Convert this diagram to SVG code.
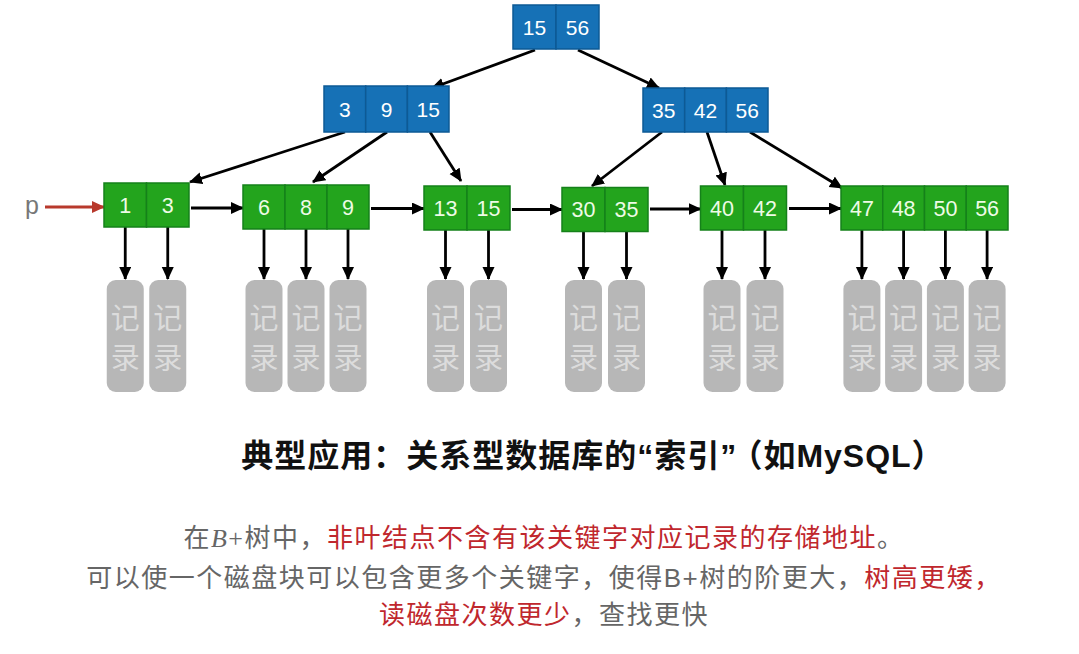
<svg xmlns="http://www.w3.org/2000/svg" width="1079" height="654" viewBox="0 0 1079 654">
<defs>
<style>
.bl{fill:#1671b6;stroke:#0d5a95;stroke-width:1.5}
.gr{fill:#23a41d;stroke:#15811a;stroke-width:1.5}
.bt{font-family:"Liberation Sans",Arial,sans-serif;font-size:21px;fill:#ffffff;text-anchor:middle}
.gt{font-family:"Liberation Sans",Arial,sans-serif;font-size:21.5px;fill:#eefbe6;text-anchor:middle}
.rec{fill:#b7b7b7}
.rt{font-family:"Noto Sans CJK SC",sans-serif;font-size:29px;fill:#dcdcdc;text-anchor:middle}
.ar{stroke:#000;stroke-width:2.8;fill:none;marker-end:url(#ah)}
.cap{font-family:"Liberation Sans","Noto Sans CJK SC",sans-serif;font-size:26px;letter-spacing:1.5px;fill:#666666;text-anchor:middle}
.red{fill:#c0272d}
</style>
<marker id="ah" markerUnits="userSpaceOnUse" markerWidth="14" markerHeight="13" refX="12" refY="6" orient="auto">
<path d="M0,0 L13,6 L0,12 z" fill="#000"/>
</marker>
<marker id="ahr" markerUnits="userSpaceOnUse" markerWidth="14" markerHeight="13" refX="12" refY="6" orient="auto">
<path d="M0,0 L13,6 L0,12 z" fill="#b8392c"/>
</marker>
</defs>
<rect width="1079" height="654" fill="#ffffff"/>

<g id="connectors">
<line class="ar" x1="535" y1="50" x2="432" y2="88"/>
<line class="ar" x1="578" y1="50" x2="659" y2="88"/>
<line class="ar" x1="345" y1="132" x2="190" y2="182"/>
<line class="ar" x1="387" y1="132" x2="313" y2="182"/>
<line class="ar" x1="430" y1="132" x2="461" y2="181"/>
<line class="ar" x1="662" y1="132" x2="592" y2="186"/>
<line class="ar" x1="707" y1="132" x2="725" y2="185"/>
<line class="ar" x1="750" y1="132" x2="842" y2="188"/>
<line class="ar" x1="191" y1="208" x2="243" y2="208"/>
<line class="ar" x1="371" y1="208.5" x2="424" y2="208.5"/>
<line class="ar" x1="512" y1="209.5" x2="562" y2="209.5"/>
<line class="ar" x1="650" y1="209" x2="700.5" y2="209"/>
<line class="ar" x1="789" y1="208.5" x2="841" y2="208.5"/>
<line x1="45" y1="207" x2="104" y2="207" stroke="#b8392c" stroke-width="2.8" marker-end="url(#ahr)"/>
<line class="ar" x1="125.25" y1="227" x2="125.25" y2="279"/>
<line class="ar" x1="167.75" y1="227" x2="167.75" y2="279"/>
<line class="ar" x1="264" y1="229" x2="264" y2="279"/>
<line class="ar" x1="306" y1="229" x2="306" y2="279"/>
<line class="ar" x1="348" y1="229" x2="348" y2="279"/>
<line class="ar" x1="445.5" y1="230" x2="445.5" y2="279"/>
<line class="ar" x1="488.5" y1="230" x2="488.5" y2="279"/>
<line class="ar" x1="583.5" y1="231.5" x2="583.5" y2="279"/>
<line class="ar" x1="626.5" y1="231.5" x2="626.5" y2="279"/>
<line class="ar" x1="722" y1="230" x2="722" y2="279"/>
<line class="ar" x1="765" y1="230" x2="765" y2="279"/>
<line class="ar" x1="861.9" y1="230" x2="861.9" y2="279"/>
<line class="ar" x1="903.6" y1="230" x2="903.6" y2="279"/>
<line class="ar" x1="945.4" y1="230" x2="945.4" y2="279"/>
<line class="ar" x1="987.1" y1="230" x2="987.1" y2="279"/>
</g>

<g id="root">
<rect class="bl" x="513" y="5" width="43" height="44"/>
<rect class="bl" x="556" y="5" width="43" height="44"/>
<text class="bt" x="534.5" y="34.5">15</text>
<text class="bt" x="577.5" y="34.5">56</text>
</g>

<g id="inner-left">
<rect class="bl" x="324" y="86" width="41.7" height="46"/>
<rect class="bl" x="365.7" y="86" width="41.7" height="46"/>
<rect class="bl" x="407.4" y="86" width="41.6" height="46"/>
<text class="bt" x="344.8" y="116.5">3</text>
<text class="bt" x="386.5" y="116.5">9</text>
<text class="bt" x="428.2" y="116.5">15</text>
</g>

<g id="inner-right">
<rect class="bl" x="643" y="88" width="41.7" height="44"/>
<rect class="bl" x="684.7" y="88" width="41.7" height="44"/>
<rect class="bl" x="726.4" y="88" width="41.6" height="44"/>
<text class="bt" x="663.8" y="117.5">35</text>
<text class="bt" x="705.5" y="117.5">42</text>
<text class="bt" x="747.2" y="117.5">56</text>
</g>

<g id="leaf1">
<rect class="gr" x="104" y="183" width="42.5" height="44"/>
<rect class="gr" x="146.5" y="183" width="42.5" height="44"/>
<text class="gt" x="125.25" y="212.5">1</text>
<text class="gt" x="167.75" y="212.5">3</text>
</g>
<g id="leaf2">
<rect class="gr" x="243" y="185" width="42" height="44"/>
<rect class="gr" x="285" y="185" width="42" height="44"/>
<rect class="gr" x="327" y="185" width="42" height="44"/>
<text class="gt" x="264" y="214.5">6</text>
<text class="gt" x="306" y="214.5">8</text>
<text class="gt" x="348" y="214.5">9</text>
</g>
<g id="leaf3">
<rect class="gr" x="424" y="186" width="43" height="44"/>
<rect class="gr" x="467" y="186" width="43" height="44"/>
<text class="gt" x="445.5" y="215.5">13</text>
<text class="gt" x="488.5" y="215.5">15</text>
</g>
<g id="leaf4">
<rect class="gr" x="562" y="187.5" width="43" height="44"/>
<rect class="gr" x="605" y="187.5" width="43" height="44"/>
<text class="gt" x="583.5" y="217">30</text>
<text class="gt" x="626.5" y="217">35</text>
</g>
<g id="leaf5">
<rect class="gr" x="700.5" y="186" width="43" height="44"/>
<rect class="gr" x="743.5" y="186" width="43" height="44"/>
<text class="gt" x="722" y="215.5">40</text>
<text class="gt" x="765" y="215.5">42</text>
</g>
<g id="leaf6">
<rect class="gr" x="841" y="186" width="41.75" height="44"/>
<rect class="gr" x="882.75" y="186" width="41.75" height="44"/>
<rect class="gr" x="924.5" y="186" width="41.75" height="44"/>
<rect class="gr" x="966.25" y="186" width="41.75" height="44"/>
<text class="gt" x="861.9" y="215.5">47</text>
<text class="gt" x="903.6" y="215.5">48</text>
<text class="gt" x="945.4" y="215.5">50</text>
<text class="gt" x="987.1" y="215.5">56</text>
</g>

<g id="records">
<g id="rec-1"><rect class="rec" x="106.75" y="280" width="37" height="112" rx="9"/><text class="rt" x="125.25" y="329">记</text><text class="rt" x="125.25" y="369">录</text></g>
<g id="rec-3"><rect class="rec" x="149.25" y="280" width="37" height="112" rx="9"/><text class="rt" x="167.75" y="329">记</text><text class="rt" x="167.75" y="369">录</text></g>
<g id="rec-6"><rect class="rec" x="245.5" y="280" width="37" height="112" rx="9"/><text class="rt" x="264" y="329">记</text><text class="rt" x="264" y="369">录</text></g>
<g id="rec-8"><rect class="rec" x="287.5" y="280" width="37" height="112" rx="9"/><text class="rt" x="306" y="329">记</text><text class="rt" x="306" y="369">录</text></g>
<g id="rec-9"><rect class="rec" x="329.5" y="280" width="37" height="112" rx="9"/><text class="rt" x="348" y="329">记</text><text class="rt" x="348" y="369">录</text></g>
<g id="rec-13"><rect class="rec" x="427" y="280" width="37" height="112" rx="9"/><text class="rt" x="445.5" y="329">记</text><text class="rt" x="445.5" y="369">录</text></g>
<g id="rec-15"><rect class="rec" x="470" y="280" width="37" height="112" rx="9"/><text class="rt" x="488.5" y="329">记</text><text class="rt" x="488.5" y="369">录</text></g>
<g id="rec-30"><rect class="rec" x="565" y="280" width="37" height="112" rx="9"/><text class="rt" x="583.5" y="329">记</text><text class="rt" x="583.5" y="369">录</text></g>
<g id="rec-35"><rect class="rec" x="608" y="280" width="37" height="112" rx="9"/><text class="rt" x="626.5" y="329">记</text><text class="rt" x="626.5" y="369">录</text></g>
<g id="rec-40"><rect class="rec" x="703.5" y="280" width="37" height="112" rx="9"/><text class="rt" x="722" y="329">记</text><text class="rt" x="722" y="369">录</text></g>
<g id="rec-42"><rect class="rec" x="746.5" y="280" width="37" height="112" rx="9"/><text class="rt" x="765" y="329">记</text><text class="rt" x="765" y="369">录</text></g>
<g id="rec-47"><rect class="rec" x="843.4" y="280" width="37" height="112" rx="9"/><text class="rt" x="861.9" y="329">记</text><text class="rt" x="861.9" y="369">录</text></g>
<g id="rec-48"><rect class="rec" x="885.1" y="280" width="37" height="112" rx="9"/><text class="rt" x="903.6" y="329">记</text><text class="rt" x="903.6" y="369">录</text></g>
<g id="rec-50"><rect class="rec" x="926.9" y="280" width="37" height="112" rx="9"/><text class="rt" x="945.4" y="329">记</text><text class="rt" x="945.4" y="369">录</text></g>
<g id="rec-56"><rect class="rec" x="968.6" y="280" width="37" height="112" rx="9"/><text class="rt" x="987.1" y="329">记</text><text class="rt" x="987.1" y="369">录</text></g>
</g>

<g id="pointer-label">
<text x="25" y="214" font-family="Liberation Sans,Arial,sans-serif" font-size="25" fill="#777777">p</text>
</g>

<g id="captions">
<text x="593" y="467" font-family="Liberation Sans,Noto Sans CJK SC,sans-serif" font-size="32" font-weight="bold" letter-spacing="1" fill="#111111" text-anchor="middle">典型应用：关系型数据库的“索引”<tspan dx="9">（如MySQL）</tspan></text>
<text class="cap" x="544" y="547">在<tspan font-family="Liberation Serif,serif" font-style="italic">B</tspan><tspan font-family="Liberation Serif,serif">+</tspan>树中，<tspan class="red">非叶结点不含有该关键字对应记录的存储地址</tspan>。</text>
<text class="cap" x="544" y="587">可以使一个磁盘块可以包含更多个关键字，使得B+树的阶更大，<tspan class="red">树高更矮，</tspan></text>
<text class="cap" x="544" y="624"><tspan class="red">读磁盘次数更少</tspan>，查找更快</text>
</g>
</svg>
